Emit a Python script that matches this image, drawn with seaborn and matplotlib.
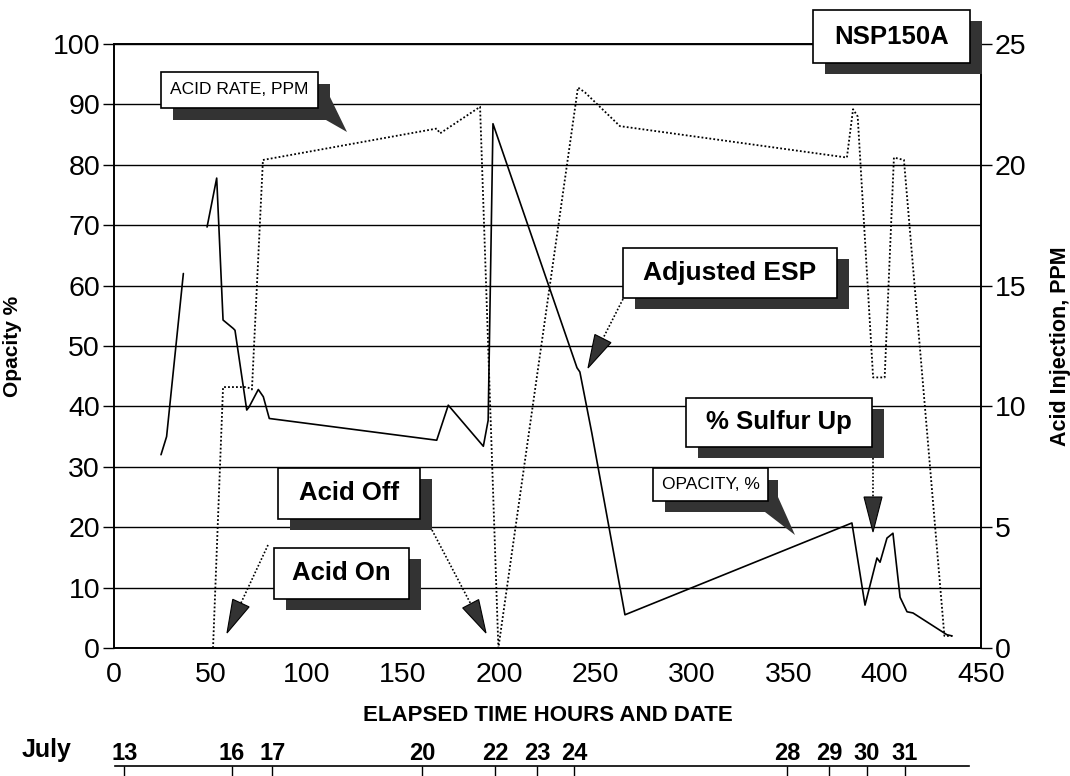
import numpy as np
import pandas as pd
import seaborn as sns
import matplotlib
matplotlib.use("Agg")
import matplotlib.pyplot as plt
from matplotlib.patches import Rectangle, Polygon
from matplotlib.lines import Line2D
from matplotlib.transforms import Affine2D

# ---------------- data ----------------
opacity_hours_a = [24.4, 27.3, 36.0]
opacity_vals_a = [32.0, 35.0, 62.0]
opacity_hours_b = [48.3, 53.3, 56.6, 61.9, 62.8, 68.9, 70.1, 74.9, 77.5, 80.6,
                   167.5, 173.5, 191.7, 194.2, 196.7, 240.3, 241.8, 248.0, 265.2, 383.0,
                   389.8, 396.0, 397.6, 401.2, 404.3, 408.0, 411.6, 414.7, 432.3, 435.0]
opacity_vals_b = [69.7, 77.8, 54.3, 52.9, 52.6, 39.4, 39.9, 42.8, 41.6, 38.0,
                  34.4, 40.2, 33.4, 37.7, 86.8, 46.4, 45.7, 35.6, 5.5, 20.7,
                  7.1, 14.9, 14.2, 18.2, 19.0, 8.4, 6.0, 5.8, 2.2, 2.0]

acid_hours = [51.4, 56.6, 69.0, 71.6, 77.3, 167.5, 169.2, 190.0, 199.5, 240.8,
              244.4, 262.6, 380.4, 383.6, 386.0, 394.0, 400.0, 404.8, 410.0, 431.0, 435.0]
acid_ppm = [0.0, 10.8, 10.8, 10.7, 20.2, 21.5, 21.3, 22.4, 0.0, 23.2,
            23.0, 21.6, 20.3, 22.3, 22.0, 11.2, 11.2, 20.3, 20.2, 0.5, 0.5]

date_labels = ["13", "16", "17", "20", "22", "23", "24", "28", "29", "30", "31"]
date_hours = [5.4, 61.0, 82.2, 160.0, 197.9, 219.8, 239.0, 349.4, 371.2, 390.8, 410.5]

x_ticks = [0, 50, 100, 150, 200, 250, 300, 350, 400, 450]
y_ticks = [0, 10, 20, 30, 40, 50, 60, 70, 80, 90, 100]
y2_ticks = [0, 5, 10, 15, 20, 25]

# ---------------- style ----------------
sns.set_theme(style="white", rc={"axes.edgecolor": "black", "xtick.color": "black",
                                 "ytick.color": "black", "text.color": "black",
                                 "axes.labelcolor": "black"})
plt.rcParams["font.family"] = ["Liberation Sans", "DejaVu Sans"]

W, H = 1070, 776
fig = plt.figure(figsize=(W / 100, H / 100), dpi=100)
fig.patch.set_facecolor("white")
pix = Affine2D().scale(1 / W, -1 / H).translate(0, 1) + fig.transFigure

L, R, T, B = 114, 981, 44, 648
ax = fig.add_axes([L / W, 1 - B / H, (R - L) / W, (B - T) / H])
ax_r = ax.twinx()

df_op = pd.DataFrame({
    "hours": opacity_hours_a + opacity_hours_b,
    "opacity": opacity_vals_a + opacity_vals_b,
    "segment": [0] * len(opacity_hours_a) + [1] * len(opacity_hours_b),
})
df_acid = pd.DataFrame({"hours": acid_hours, "ppm": acid_ppm})

sns.lineplot(data=df_op, x="hours", y="opacity", units="segment", estimator=None,
             sort=False, color="black", linewidth=1.2, ax=ax, legend=False)
sns.lineplot(data=df_acid, x="hours", y="ppm", estimator=None, sort=False,
             color="black", linewidth=1.3, linestyle=(0, (1, 1.2)), ax=ax_r, legend=False)

ax.set_xlim(0, 450)
ax.set_ylim(0, 100)
ax_r.set_ylim(0, 25)
ax.set_xticks(x_ticks)
ax.set_yticks(y_ticks)
ax_r.set_yticks(y2_ticks)
ax.yaxis.grid(True, color="black", linewidth=1.0)
ax.xaxis.grid(False)
ax_r.grid(False)

for a in (ax, ax_r):
    for s in a.spines.values():
        s.set_color("black")
        s.set_linewidth(1.2)
ax.tick_params(axis="both", direction="out", length=8, width=1.0, labelsize=20.5, pad=2)
ax_r.tick_params(axis="y", direction="out", length=8, width=1.0, labelsize=20.5, pad=2)

ax.set_xlabel("ELAPSED TIME HOURS AND DATE", fontsize=16, fontweight="bold")
ax.xaxis.set_label_coords((548 - L) / (R - L), -(705 - B) / (B - T))
ax.set_ylabel("Opacity %", fontsize=15, fontweight="bold")
ax.yaxis.set_label_coords(-(L - 22) / (R - L), 0.5)
ax_r.set_ylabel("Acid Injection, PPM", fontsize=15.5, fontweight="bold", rotation=90)
ax_r.yaxis.set_label_coords((1050 - L) / (R - L), 0.5)

# ---------------- date axis ----------------
ax2 = fig.add_axes([L / W, 0.0, (R - L) / W, (H - 766) / H])
ax2.set_xlim(0, 450)
ax2.patch.set_visible(False)
for k in ("left", "right", "bottom"):
    ax2.spines[k].set_visible(False)
ax2.spines["top"].set_bounds(0.5, 444)
ax2.spines["top"].set_linewidth(1.2)
ax2.xaxis.tick_top()
ax2.set_xticks(date_hours)
ax2.set_xticklabels(date_labels, fontweight="bold")
ax2.tick_params(axis="x", direction="in", length=9, width=1.0, labelsize=17, pad=1)
ax2.set_yticks([])
fig.text(22, 750, "July", transform=pix, fontsize=18, fontweight="bold",
         ha="left", va="center")

# ---------------- annotations (pixel layout) ----------------
SHADOW = "#333333"


def shadow_box(x0, y0, x1, y1, text, size, weight, dx=12, dy=11, shadow_poly=None):
    if shadow_poly is None:
        fig.add_artist(Rectangle((x0 + dx, y1 + dy), x1 - x0, -(y1 - y0), transform=pix,
                                 facecolor=SHADOW, edgecolor="none", zorder=5))
    else:
        fig.add_artist(Polygon(shadow_poly, closed=True, transform=pix,
                               facecolor=SHADOW, edgecolor="none", zorder=5))
    fig.add_artist(Rectangle((x0, y1), x1 - x0, -(y1 - y0), transform=pix,
                             facecolor="white", edgecolor="black", linewidth=1.2, zorder=6))
    fig.text((x0 + x1) / 2, (y0 + y1) / 2, text, transform=pix, fontsize=size,
             fontweight=weight, ha="center", va="center", zorder=7)


def dotted_arrow(start, tip, hl=33, hw=9):
    sx, sy = start
    tx, ty = tip
    d = np.array([tx - sx, ty - sy], dtype=float)
    d /= np.hypot(*d)
    n = np.array([-d[1], d[0]])
    base = np.array([tx, ty]) - d * hl
    fig.add_artist(Line2D([sx, base[0]], [sy, base[1]], transform=pix, color="black",
                          linewidth=1.2, linestyle=(0, (1, 1.2)), zorder=5))
    head = [tuple(base + n * hw), (tx, ty), tuple(base - n * hw)]
    fig.add_artist(Polygon(head, closed=True, transform=pix, facecolor=SHADOW,
                           edgecolor="black", linewidth=0.8, zorder=5))


shadow_box(813, 10, 970, 63, "NSP150A", 18.5, "bold")
shadow_box(161, 72, 318, 108, "ACID RATE, PPM", 12.5, "normal",
           shadow_poly=[(173, 84), (330, 84), (330, 97), (347, 132), (326, 120), (173, 120)])
shadow_box(623, 248, 837, 298, "Adjusted ESP", 19, "bold")
shadow_box(686, 398, 872, 447, "% Sulfur Up", 18.5, "bold")
shadow_box(653, 468, 768, 501, "OPACITY, %", 12.5, "normal",
           shadow_poly=[(665, 480), (778, 480), (778, 497), (795, 535), (765, 512), (665, 512)])
shadow_box(278, 468, 420, 519, "Acid Off", 18.5, "bold")
shadow_box(274, 548, 409, 599, "Acid On", 18.5, "bold")

dotted_arrow((623, 299), (588, 368))
dotted_arrow((873, 458), (873, 532), hl=35)
dotted_arrow((432, 530), (486, 633))
dotted_arrow((268, 545), (227, 633))

fig.savefig("out.png", dpi=100, facecolor="white")
